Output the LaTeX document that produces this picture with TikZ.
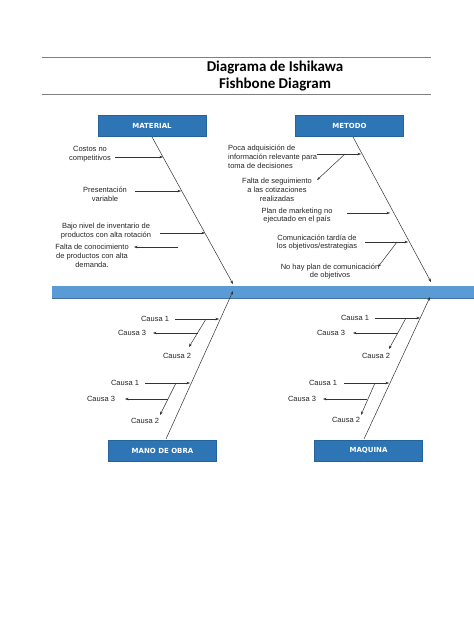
\documentclass[tikz,border=0pt]{standalone}
\usepackage{fontspec}
\setmainfont{Liberation Sans}
\newfontfamily\titlefont{Carlito}
\newfontfamily\boxfont{DejaVu Sans}
\usetikzlibrary{arrows.meta}
\definecolor{boxblue}{HTML}{2E75B6}
\definecolor{barblue}{HTML}{5B9BD5}
\definecolor{baredge}{HTML}{41719C}
\definecolor{rulegray}{HTML}{7F7F7F}
\definecolor{linegray}{HTML}{333333}
\begin{document}
\begin{tikzpicture}[x=1pt,y=-1pt,
  catbox/.style={fill=boxblue, draw=boxblue!85!black, line width=0.4pt, text=white,
    font=\boxfont\bfseries\fontsize{7}{8}\selectfont,
    minimum width=108pt, minimum height=21pt, inner sep=0pt},
  lbl/.style={font=\fontsize{7.5}{8.8}\selectfont, align=center, inner sep=0pt, text=black!85},
  lbll/.style={lbl, align=left},
  arr/.style={-{Stealth[length=3.5pt,width=2.6pt]}, line width=0.5pt, draw=linegray},
  rul/.style={line width=1pt, draw=rulegray}
]
\useasboundingbox[fill=white] (0,0) rectangle (474,632);

% title rules
\coordinate (r1a) at (42,57); \coordinate (r1b) at (431,57);
\coordinate (r2a) at (42,94); \coordinate (r2b) at (431,94);
\draw[rul] (r1a) -- (r1b);
\draw[rul] (r2a) -- (r2b);
\node[font=\titlefont\bfseries\fontsize{15}{17}\selectfont, align=center] (title) at (275,76)
  {Diagrama de Ishikawa\\Fishbone Diagram};

% spine bar
\node[fill=barblue, minimum width=422pt, minimum height=12pt, inner sep=0pt, anchor=north west] (spine) at (52,286) {};
\draw[baredge, line width=1pt] (spine.south west) -- (spine.south east);

% category boxes
\node[catbox] (mat) at (152,125.5) {MATERIAL};
\node[catbox] (met) at (349.5,126) {METODO};
\node[catbox] (mano) at (162.5,451) {MANO DE OBRA};
\node[catbox] (maq) at (368.5,450.5) {MAQUINA};

% bones
\coordinate (matS) at (152,137); \coordinate (matE) at (233,284);
\coordinate (metS) at (353,137); \coordinate (metE) at (431,282);
\coordinate (manS) at (166,439); \coordinate (manE) at (233,291);
\coordinate (maqS) at (364,439); \coordinate (maqE) at (430,297);
\draw[arr] (matS) -- (matE);
\draw[arr] (metS) -- (metE);
\draw[arr] (manS) -- (manE);
\draw[arr] (maqS) -- (maqE);

% ---- MATERIAL causes
\node[lbl] (m1) at (90,154) {Costos no\\competitivos};
\coordinate (m1a) at (115,157); \coordinate (m1b) at (163,157);
\draw[arr] (m1a) -- (m1b);
\node[lbl] (m2) at (105,194) {Presentación\\variable};
\coordinate (m2a) at (135,191); \coordinate (m2b) at (181,191);
\draw[arr] (m2a) -- (m2b);
\node[lbl] (m3) at (106,231) {Bajo nivel de inventario de\\productos con alta rotación};
\coordinate (m3a) at (160,233); \coordinate (m3b) at (205,233);
\draw[arr] (m3a) -- (m3b);
\node[lbl] (m4) at (92,256) {Falta de conocimiento\\de productos con alta\\demanda.};
\coordinate (m4a) at (178,247); \coordinate (m4b) at (134,247);
\draw[arr] (m4a) -- (m4b);

% ---- METODO causes
\node[lbll, anchor=north west] (t1) at (228,145) {Poca adquisición de\\información relevante para\\toma de decisiones};
\coordinate (t1a) at (317,154); \coordinate (t1b) at (361,154);
\draw[arr] (t1a) -- (t1b);
\coordinate (t1s) at (345,154); \coordinate (t1e) at (317,180);
\draw[arr] (t1s) -- (t1e);
\node[lbl] (t2) at (277,190) {Falta de seguimiento\\a las cotizaciones\\realizadas};
\node[lbl] (t3) at (297,215.5) {Plan de marketing no\\ejecutado en el país};
\coordinate (t3a) at (347,213); \coordinate (t3b) at (390,213);
\draw[arr] (t3a) -- (t3b);
\node[lbl] (t4) at (317,242.5) {Comunicación tardía de\\los objetivos/estrategias};
\coordinate (t4a) at (365,242); \coordinate (t4b) at (408,242);
\draw[arr] (t4a) -- (t4b);
\coordinate (t4s) at (397,242); \coordinate (t4e) at (378,267);
\draw[arr] (t4s) -- (t4e);
\node[lbl] (t5) at (330,271.5) {No hay plan de comunicación\\de objetivos};

% ---- MANO DE OBRA causes
\node[lbl] (a1) at (155,319) {Causa 1};
\coordinate (a1a) at (175,319); \coordinate (a1b) at (219,319);
\draw[arr] (a1a) -- (a1b);
\coordinate (a1s) at (206,319); \coordinate (a1e) at (189,347);
\draw[arr] (a1s) -- (a1e);
\node[lbl] (a2) at (177,356) {Causa 2};
\node[lbl] (a3) at (132,333) {Causa 3};
\coordinate (a3a) at (197.5,333); \coordinate (a3b) at (153,333);
\draw[arr] (a3a) -- (a3b);

\node[lbl] (b1) at (125,383) {Causa 1};
\coordinate (b1a) at (145,383); \coordinate (b1b) at (190,383);
\draw[arr] (b1a) -- (b1b);
\coordinate (b1s) at (176,383); \coordinate (b1e) at (160,415);
\draw[arr] (b1s) -- (b1e);
\node[lbl] (b2) at (145,421) {Causa 2};
\node[lbl] (b3) at (101,399) {Causa 3};
\coordinate (b3a) at (168,399); \coordinate (b3b) at (125,399);
\draw[arr] (b3a) -- (b3b);

% ---- MAQUINA causes
\node[lbl] (c1) at (355,318) {Causa 1};
\coordinate (c1a) at (375,318); \coordinate (c1b) at (420,318);
\draw[arr] (c1a) -- (c1b);
\coordinate (c1s) at (406,318); \coordinate (c1e) at (389,349);
\draw[arr] (c1s) -- (c1e);
\node[lbl] (c2) at (376,356) {Causa 2};
\node[lbl] (c3) at (331,333) {Causa 3};
\coordinate (c3a) at (398,333); \coordinate (c3b) at (353,333);
\draw[arr] (c3a) -- (c3b);

\node[lbl] (d1) at (323,383) {Causa 1};
\coordinate (d1a) at (344,383); \coordinate (d1b) at (389,383);
\draw[arr] (d1a) -- (d1b);
\coordinate (d1s) at (375,383); \coordinate (d1e) at (361,415);
\draw[arr] (d1s) -- (d1e);
\node[lbl] (d2) at (346,420) {Causa 2};
\node[lbl] (d3) at (302,399) {Causa 3};
\coordinate (d3a) at (367,399); \coordinate (d3b) at (323,399);
\draw[arr] (d3a) -- (d3b);
\end{tikzpicture}
\end{document}
